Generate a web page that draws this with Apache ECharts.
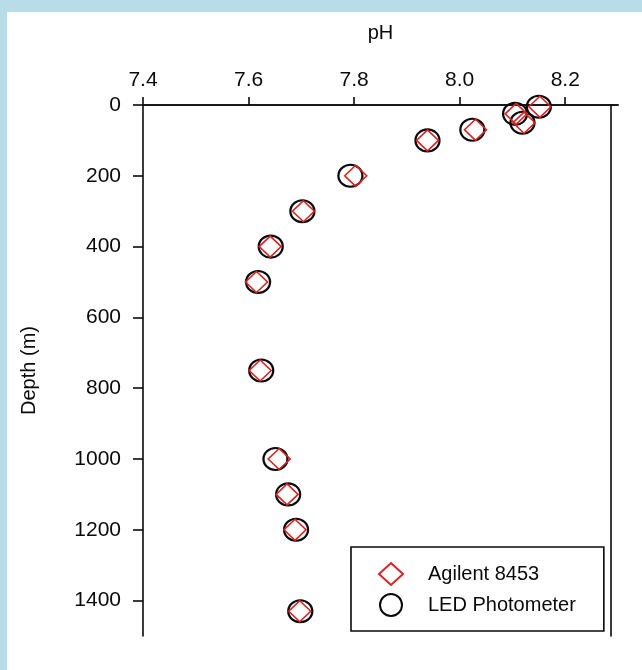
<!DOCTYPE html>
<html>
<head>
<meta charset="utf-8">
<script src="https://cdn.jsdelivr.net/npm/echarts@6/dist/echarts.min.js"></script>
<style>
  html, body { margin: 0; padding: 0; width: 642px; height: 670px; overflow: hidden; background: #b8dde8; }
  #chart { position: absolute; left: 7px; top: 12px; width: 635px; height: 658px; background: #ffffff; }
</style>
</head>
<body>
<div id="chart"></div>
<script>
// Sampling depths (m) and pH measured by the two instruments
const depthM = [5, 25, 50, 70, 100, 200, 300, 400, 500, 750, 1000, 1100, 1200, 1430];
const phAgilent = [8.152, 8.107, 8.122, 8.030, 7.939, 7.803, 7.704, 7.641, 7.615, 7.622, 7.658, 7.673, 7.688, 7.697];
const phLed = [8.150, 8.105, 8.119, 8.024, 7.939, 7.793, 7.702, 7.642, 7.618, 7.624, 7.651, 7.675, 7.690, 7.698];

// Axis tick values
const phTicks = [7.4, 7.6, 7.8, 8.0, 8.2];
const depthTicks = [0, 200, 400, 600, 800, 1000, 1200, 1400];

const seriesNames = ['Agilent 8453', 'LED Photometer'];

const FONT = 'Liberation Sans, Arial, Helvetica, sans-serif';
const INK = '#0a0a0a';
const RED = '#d82424';

const chart = echarts.init(document.getElementById('chart'), null, { renderer: 'canvas' });

const lineStyle = { color: INK, width: 1.6 };

chart.setOption({
  animation: false,
  backgroundColor: '#ffffff',
  textStyle: { fontFamily: FONT },
  grid: { left: 136, top: 93, right: 24, bottom: 34, containLabel: false },
  xAxis: [
    {
      type: 'value',
      position: 'top',
      min: 7.4,
      max: 8.3,
      name: 'pH',
      nameLocation: 'middle',
      nameGap: 62,
      nameTextStyle: { fontFamily: FONT, fontSize: 20, color: INK },
      splitLine: { show: false },
      axisLine: { show: true, lineStyle },
      axisTick: { show: true, length: 8, lineStyle, customValues: phTicks },
      axisLabel: {
        customValues: phTicks,
        formatter: v => v.toFixed(1),
        fontFamily: FONT, fontSize: 21, color: INK, margin: 14
      }
    },
    {
      type: 'value',
      position: 'bottom',
      min: 7.4,
      max: 8.3,
      splitLine: { show: false },
      axisLine: { show: true, lineStyle },
      axisTick: { show: false },
      axisLabel: { show: false }
    }
  ],
  yAxis: [
    {
      type: 'value',
      inverse: true,
      min: 0,
      max: 1500,
      name: 'Depth (m)',
      nameLocation: 'middle',
      nameRotate: 90,
      nameGap: 104,
      nameTextStyle: { fontFamily: FONT, fontSize: 20, color: INK },
      splitLine: { show: false },
      axisLine: { show: true, lineStyle },
      axisTick: { show: true, length: 10, lineStyle, customValues: depthTicks },
      axisLabel: {
        customValues: depthTicks,
        formatter: v => String(v),
        fontFamily: FONT, fontSize: 21, color: INK, margin: 22
      }
    },
    {
      type: 'value',
      position: 'right',
      offset: -7,
      inverse: true,
      min: 0,
      max: 1500,
      splitLine: { show: false },
      axisLine: { show: true, lineStyle },
      axisTick: { show: false },
      axisLabel: { show: false }
    }
  ],
  legend: {
    orient: 'vertical',
    left: 344,
    top: 535,
    padding: [15, 28, 14, 27],
    itemGap: 7,
    itemWidth: 24,
    itemHeight: 22,
    borderColor: INK,
    borderWidth: 1.6,
    backgroundColor: '#ffffff',
    textStyle: { fontFamily: FONT, fontSize: 20, color: INK, padding: [0, 0, 0, 20] },
    data: [
      { name: seriesNames[0], icon: 'diamond', itemStyle: { color: 'rgba(0,0,0,0)', borderColor: RED, borderWidth: 2 } },
      { name: seriesNames[1], icon: 'circle', itemStyle: { color: 'rgba(0,0,0,0)', borderColor: INK, borderWidth: 2 } }
    ]
  },
  series: [
    {
      name: seriesNames[1],
      type: 'scatter',
      symbol: 'circle',
      symbolSize: [24, 22],
      itemStyle: { color: 'rgba(0,0,0,0)', borderColor: INK, borderWidth: 2.2, opacity: 1 },
      emphasis: { disabled: true },
      z: 2,
      data: depthM.map((d, i) => [phLed[i], d])
    },
    {
      name: seriesNames[0],
      type: 'scatter',
      symbol: 'diamond',
      symbolSize: [22, 21],
      itemStyle: { color: 'rgba(0,0,0,0)', borderColor: RED, borderWidth: 1.6, opacity: 1 },
      emphasis: { disabled: true },
      z: 3,
      data: depthM.map((d, i) => [phAgilent[i], d])
    }
  ]
});
</script>
</body>
</html>
